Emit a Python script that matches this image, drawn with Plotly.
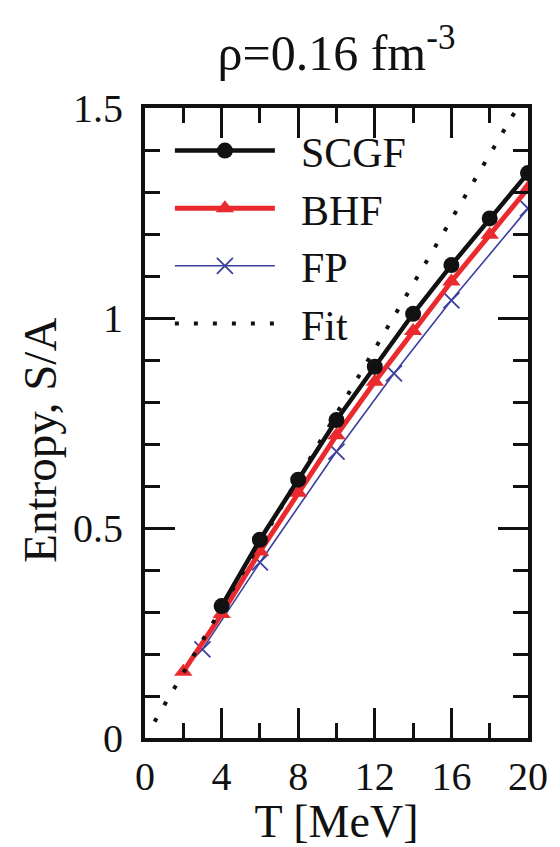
import plotly.graph_objects as go

# ---- data ----
scgf_T = [4, 6, 8, 10, 12, 14, 16, 18, 20]
scgf_S = [0.314, 0.472, 0.615, 0.757, 0.884, 1.010, 1.126, 1.237, 1.345]

bhf_T = [2, 4, 6, 8, 10, 12, 14, 16, 18, 20]
bhf_S = [0.158, 0.295, 0.444, 0.584, 0.721, 0.848, 0.969, 1.087, 1.198, 1.309]

fp_T = [3, 6, 10, 13, 16, 20]
fp_S = [0.211, 0.418, 0.682, 0.868, 1.042, 1.261]

fit_T = [0.5, 19.5]
fit_S = [0.039, 1.505]

x_ticks = [0, 4, 8, 12, 16, 20]
y_ticks = [0, 0.5, 1, 1.5]
y_ticklabels = ["0", "0.5", "1", "1.5"]

FONT = "Liberation Serif"
INK = "#111111"
PAD = "\u00a0\u00a0"

# the page adds an 8px body margin, so the figure is 8px smaller each way
W, H = 552, 839

fig = go.Figure()

fig.add_trace(go.Scatter(
    x=fp_T, y=fp_S, name=PAD + "FP", mode="lines+markers", legendrank=3,
    line=dict(color="#3b3f9e", width=1.6),
    marker=dict(symbol="x-thin", size=16, line=dict(color="#3b3f9e", width=1.8)),
))
fig.add_trace(go.Scatter(
    x=bhf_T, y=bhf_S, name=PAD + "BHF", mode="lines+markers", legendrank=2,
    line=dict(color="#ea2a2e", width=5),
    marker=dict(symbol="triangle-up", size=16, color="#ea2a2e"),
))
fig.add_trace(go.Scatter(
    x=scgf_T, y=scgf_S, name=PAD + "SCGF", mode="lines+markers", legendrank=1,
    line=dict(color="#111111", width=4.5),
    marker=dict(symbol="circle", size=16, color="#111111"),
))
fig.add_trace(go.Scatter(
    x=fit_T, y=fit_S, name=PAD + "Fit", mode="lines", legendrank=4,
    line=dict(color="#111111", width=4, dash="4px,15px"),
))

axis_common = dict(
    showgrid=False, zeroline=False,
    showline=True, linecolor=INK, linewidth=4, mirror="ticks",
    ticks="inside", ticklen=30, tickwidth=3, tickcolor=INK,
    tickfont=dict(family=FONT, size=40, color=INK),
)

fig.update_xaxes(
    range=[0, 20], tickmode="array", tickvals=x_ticks,
    ticktext=[str(v) for v in x_ticks],
    minor=dict(dtick=2, ticklen=15, tickwidth=3, tickcolor=INK, ticks="inside"),
    title=dict(text="T [MeV]", font=dict(family=FONT, size=46, color=INK), standoff=4),
    **axis_common,
)
fig.update_yaxes(
    range=[0, 1.5], tickmode="array", tickvals=y_ticks, ticktext=y_ticklabels,
    minor=dict(dtick=0.1, ticklen=15, tickwidth=3, tickcolor=INK, ticks="inside"),
    ticklabelstandoff=10,
    **axis_common,
)

fig.add_annotation(
    text="Entropy, S/A", textangle=-90, showarrow=False,
    xref="paper", yref="paper", x=-0.275, y=0.473,
    xanchor="center", yanchor="middle",
    font=dict(family=FONT, size=47, color=INK),
)

fig.update_layout(
    width=W, height=H,
    margin=dict(l=137, r=25, t=100, b=109),
    paper_bgcolor="white", plot_bgcolor="white",
    title=dict(
        text="ρ=0.16 fm<sup>-3</sup>",
        font=dict(family=FONT, size=50, color=INK),
        x=0.5, xref="paper", xanchor="center",
        y=1 - 44 / H, yref="container", yanchor="middle",
    ),
    legend=dict(
        x=0.065, y=0.986, xanchor="left", yanchor="top",
        bgcolor="rgba(0,0,0,0)", borderwidth=0,
        font=dict(family=FONT, size=42, color=INK),
        itemwidth=100, tracegroupgap=0,
    ),
    showlegend=True,
)

fig.write_html("out.html")
